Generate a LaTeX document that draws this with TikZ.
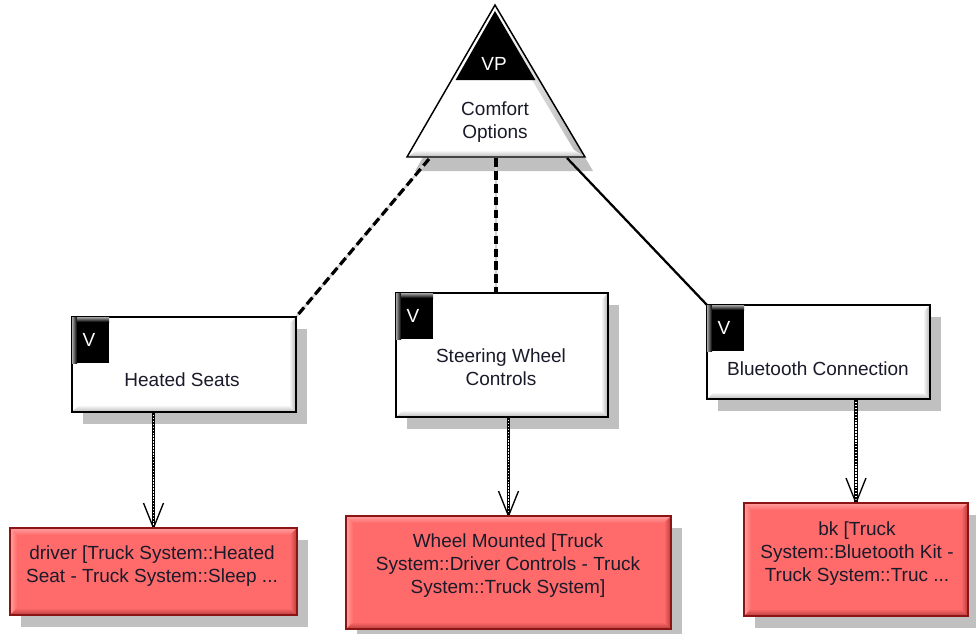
\documentclass[tikz,border=0pt]{standalone}
\usepackage{fontspec}
\setmainfont{Liberation Sans}
\usetikzlibrary{fit,calc}
\definecolor{shadowc}{HTML}{C0C0C0}
\definecolor{redfill}{HTML}{FF6B6B}
\definecolor{redborder}{HTML}{8B1414}
\definecolor{redlight}{HTML}{FFA0A0}
\definecolor{reddark}{HTML}{B83C3C}
\definecolor{txtc}{HTML}{1A1A2A}
\tikzset{
  frame/.style={inner sep=0pt, outer sep=0pt},
  txt/.style={font=\fontsize{14.25pt}{17.25pt}\selectfont, align=center, inner sep=0pt, text=txtc},
  vtxt/.style={font=\fontsize{14.25pt}{17.25pt}\selectfont, inner sep=0pt, text=white},
  dashconn/.style={black, line width=2.4pt, dash pattern=on 6.5pt off 3.2pt},
  dashbase/.style={gray!35, line width=1.6pt},
  solidconn/.style={black, line width=1.7pt},
  dotbase/.style={black, line width=2.3pt},
  dottop/.style={white, line width=0.8pt, dash pattern=on 1.1pt off 1.1pt},
  barb/.style={black, line width=1pt},
}
\newcommand\boxshadow[1]{%
  \fill[shadowc] ([shift={(11,12)}]#1.north west) rectangle ([shift={(11,12)}]#1.south east);}
\newcommand\whitebody[1]{%
  \fill[white] (#1.north west) rectangle (#1.south east);
  \shade[left color=white, right color=gray!60] (#1.north east) -- (#1.south east) -- ([shift={(-7,-7)}]#1.south east) -- ([shift={(-7,7)}]#1.north east) -- cycle;
  \shade[top color=white, bottom color=gray!55] (#1.south west) -- (#1.south east) -- ([shift={(-7,-7)}]#1.south east) -- ([shift={(7,-7)}]#1.south west) -- cycle;
  \draw[black, line width=1.1pt] (#1.north west) rectangle (#1.south east);}
\newcommand\redbody[1]{%
  \fill[redfill] (#1.north west) rectangle (#1.south east);
  \shade[top color=redlight, bottom color=redfill] (#1.north west) -- (#1.north east) -- ([shift={(-7,7)}]#1.north east) -- ([shift={(7,7)}]#1.north west) -- cycle;
  \shade[left color=redlight, right color=redfill] (#1.north west) -- (#1.south west) -- ([shift={(7,-7)}]#1.south west) -- ([shift={(7,7)}]#1.north west) -- cycle;
  \shade[left color=redfill, right color=reddark] (#1.north east) -- (#1.south east) -- ([shift={(-7,-7)}]#1.south east) -- ([shift={(-7,7)}]#1.north east) -- cycle;
  \shade[top color=redfill, bottom color=reddark] (#1.south west) -- (#1.south east) -- ([shift={(-7,-7)}]#1.south east) -- ([shift={(7,-7)}]#1.south west) -- cycle;
  \draw[redborder, line width=0.8pt] (#1.north west) rectangle (#1.south east);}
\newcommand\vsquare[1]{%
  \fill[black] (#1.north west) rectangle ([shift={(37,46)}]#1.north west);
  \shade[left color=gray!70, right color=black] (#1.north west) rectangle ([shift={(5,46)}]#1.north west);
  \shade[top color=gray!70, bottom color=black] ([shift={(5,0)}]#1.north west) rectangle ([shift={(37,5)}]#1.north west);
  \node[vtxt] (#1v) at ([shift={(17,23)}]#1.north west) {V};}
\newcommand\dotarrow[2]{%
  \draw[dotbase] (#2.north |- #1.south) -- (#2.north);
  \draw[dottop] (#2.north |- #1.south) -- (#2.north);
  \draw[barb] ([shift={(-10,-25)}]#2.north) -- (#2.north) -- ([shift={(10,-25)}]#2.north);}
\begin{document}
\begin{tikzpicture}[x=0.75pt, y=-0.75pt]
\useasboundingbox (0,0) rectangle (976,633);
% frames
\node[frame, fit={(72,317) (296,412)}] (hs) {};
\node[frame, fit={(396,293) (608,417)}] (sw) {};
\node[frame, fit={(707,305) (930,399)}] (bt) {};
\node[frame, fit={(10,528) (297,615)}] (drv) {};
\node[frame, fit={(346,516) (671,629)}] (wm) {};
\node[frame, fit={(744,503) (968,616)}] (bk) {};
\coordinate (tA) at (495,5);
\coordinate (tB) at (407,157);
\coordinate (tC) at (585,157);
\coordinate (tL) at (429,159);
\coordinate (tM) at (496,158);
\coordinate (tR) at (567,158);
% shadows
\fill[shadowc] ([shift={(8,14)}]tA) -- ([shift={(8,14)}]tB) -- ([shift={(8,14)}]tC) -- cycle;
\foreach \n in {hs,sw,bt,drv,wm,bk} {\boxshadow{\n}}
% connectors
\draw[dashbase] (tL) -- (hs.north east);
\draw[dashconn] (tL) -- (hs.north east);
\draw[dashbase] (tM) -- (tM |- sw.north);
\draw[dashconn] (tM) -- (tM |- sw.north);
\draw[solidconn] (tR) -- (bt.north west);
\dotarrow{hs}{drv}
\dotarrow{sw}{wm}
\dotarrow{bt}{bk}
% triangle
\fill[white] (tA) -- (tB) -- (tC) -- cycle;
\shade[left color=white, right color=gray!60] (tA) -- (tC) -- ($(tC)+(-11,-7)$) -- ($(tA)+(0,13)$) -- cycle;
\shade[top color=white, bottom color=gray!55] (tB) -- (tC) -- ($(tC)+(-11,-7)$) -- ($(tB)+(11,-7)$) -- cycle;
\fill[black] ($(tA)+(0,6)$) -- ($(tA)!75/152!(tB)+(4,0)$) -- ($(tA)!75/152!(tC)+(-4,0)$) -- cycle;
\draw[black, line width=1.1pt, line join=miter] (tA) -- (tB) -- (tC) -- cycle;
\node[vtxt] (vplab) at (494,64) {VP};
\node[txt] (vp) at (495,122) {Comfort\\Options};
% white boxes
\whitebody{hs}\vsquare{hs}
\whitebody{sw}\vsquare{sw}
\whitebody{bt}\vsquare{bt}
\node[txt] (hst) at (182,380) {Heated Seats};
\node[txt] (swt) at (501,367) {Steering Wheel\\Controls};
\node[txt] (btt) at (818,369) {Bluetooth Connection};
% red boxes
\redbody{drv}
\redbody{wm}
\redbody{bk}
\node[txt] (drvt) at (152,566) {driver [Truck System::Heated\\Seat - Truck System::Sleep ...};
\node[txt] (wmt) at (508,566) {Wheel Mounted [Truck\\System::Driver Controls - Truck\\System::Truck System]};
\node[txt] (bkt) at (857,554) {bk [Truck\\System::Bluetooth Kit -\\Truck System::Truc ...};
\end{tikzpicture}
\end{document}
